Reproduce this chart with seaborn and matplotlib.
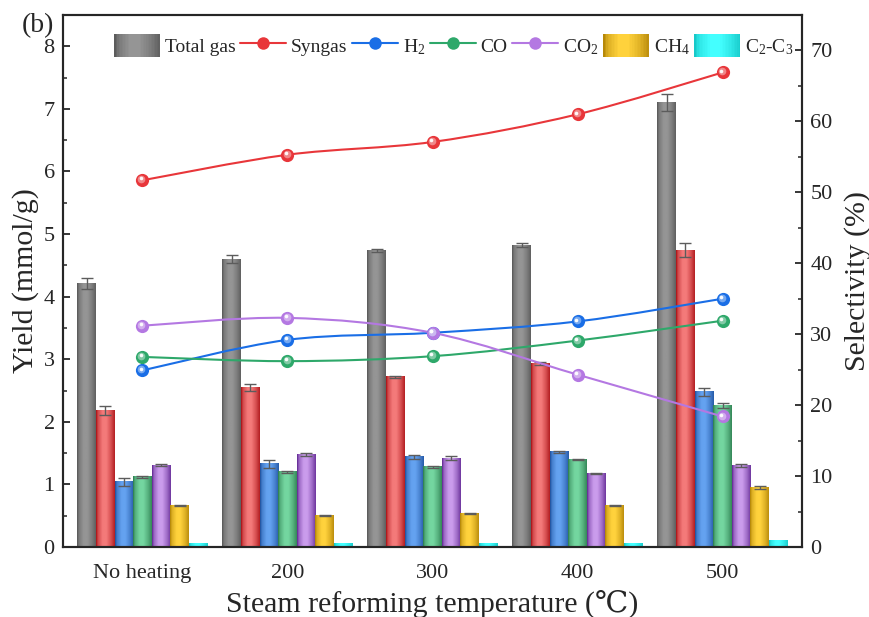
import numpy as np
import pandas as pd
import matplotlib
matplotlib.use("Agg")
import matplotlib.pyplot as plt
import seaborn as sns
from matplotlib.path import Path
from matplotlib.patches import PathPatch, Rectangle
from matplotlib.lines import Line2D
from matplotlib.legend_handler import HandlerBase
from matplotlib.ticker import MultipleLocator
from matplotlib import transforms

# ---- data -------------------------------------------------------------
temperatures = ["No heating", "200", "300", "400", "500"]
gases = ["Total gas", "Syngas", "H$_2$", "CO", "CO$_2$", "CH$_4$", "C$_2$-C$_3$"]

# gas yields (mmol/g)
total_gas = [4.21, 4.60, 4.74, 4.82, 7.10]
syngas = [2.18, 2.55, 2.72, 2.93, 4.74]
h2 = [1.04, 1.33, 1.44, 1.52, 2.48]
co = [1.12, 1.20, 1.28, 1.40, 2.26]
co2 = [1.31, 1.48, 1.42, 1.17, 1.30]
ch4 = [0.66, 0.50, 0.53, 0.66, 0.95]
c2_c3 = [0.05, 0.06, 0.05, 0.05, 0.10]

# standard deviations of the yields
total_gas_err = [0.09, 0.06, 0.02, 0.03, 0.13]
syngas_err = [0.07, 0.06, 0.02, 0.03, 0.11]
h2_err = [0.06, 0.06, 0.03, 0.02, 0.06]
co_err = [0.01, 0.01, 0.02, 0.01, 0.04]
co2_err = [0.01, 0.02, 0.03, 0.01, 0.02]
ch4_err = [0.01, 0.01, 0.01, 0.01, 0.02]
c2_c3_err = [0.0, 0.0, 0.0, 0.0, 0.0]

# selectivities (%)
syngas_sel = [51.7, 55.3, 57.1, 61.0, 66.9]
h2_sel = [24.9, 29.2, 30.2, 31.8, 35.0]
co_sel = [26.8, 26.2, 26.9, 29.1, 31.9]
co2_sel = [31.2, 32.3, 30.2, 24.3, 18.4]

yield_series = [total_gas, syngas, h2, co, co2, ch4, c2_c3]
err_series = [total_gas_err, syngas_err, h2_err, co_err, co2_err, ch4_err, c2_c3_err]

# ---- styling ----------------------------------------------------------
dark_cols = ["#565656", "#a80e12", "#1c4f9c", "#2a7a4c", "#5e2490", "#b08204", "#12c4c4"]
light_cols = ["#959595", "#f47a7a", "#64a2f0", "#74d6a0", "#ca9cec", "#ffd23c", "#44ffff"]
line_cols = {"Syngas": "#e8363a", "H$_2$": "#1a6ee6", "CO": "#2ea86a", "CO$_2$": "#b478e2"}

sns.set_style("ticks")
plt.rcParams["font.family"] = ["Liberation Serif", "DejaVu Serif"]
plt.rcParams["mathtext.fontset"] = "custom"
plt.rcParams["mathtext.rm"] = "Liberation Serif"
plt.rcParams["mathtext.it"] = "Liberation Serif:italic"
plt.rcParams["axes.linewidth"] = 1.5

prof_x = [0.0, 0.1, 0.35, 0.55, 0.8, 1.0]
prof_y = [0.0, 0.55, 1.0, 1.0, 0.6, 0.15]


def shade(dark, light, t):
    d = np.array(matplotlib.colors.to_rgb(dark))
    l = np.array(matplotlib.colors.to_rgb(light))
    p = np.interp(t, prof_x, prof_y)
    return d + (l - d) * np.asarray(p)[..., None]


class GradientHandler(HandlerBase):
    def __init__(self, dark, light):
        super().__init__()
        self.dark, self.light = dark, light

    def create_artists(self, legend, orig_handle, xdescent, ydescent,
                       width, height, fontsize, trans):
        n = 30
        out = []
        for k in range(n):
            c = shade(self.dark, self.light, (k + 0.5) / n)
            out.append(Rectangle((-xdescent + width * k / n, -ydescent),
                                 width / n * 1.08, height, facecolor=c,
                                 edgecolor="none", transform=trans))
        return out


def smooth_path(xs, ys):
    pts = np.column_stack([xs, ys]).astype(float)
    ext = np.vstack([pts[0], pts, pts[-1]])
    verts = [pts[0]]
    codes = [Path.MOVETO]
    for i in range(len(pts) - 1):
        p0, p1, p2, p3 = ext[i], ext[i + 1], ext[i + 2], ext[i + 3]
        verts += [p1 + (p2 - p0) / 6.0, p2 - (p3 - p1) / 6.0, p2]
        codes += [Path.CURVE4] * 3
    return Path(verts, codes)


# ---- figure -----------------------------------------------------------
fig = plt.figure(figsize=(8.69, 6.17), dpi=100)
ax = fig.add_axes([63 / 869, 70 / 617, 739 / 869, 532 / 617])

df = pd.DataFrame({
    "Temperature": np.tile(temperatures, len(gases)),
    "Gas": np.repeat(gases, len(temperatures)),
    "Yield": np.concatenate(yield_series),
})

sns.barplot(data=df, x="Temperature", y="Yield", hue="Gas", order=temperatures,
            hue_order=gases, palette=light_cols, width=0.9, gap=0,
            errorbar=None, linewidth=0, edgecolor="none", saturation=1,
            legend=False, ax=ax)

bar_containers = list(ax.containers)
xs_grad = np.linspace(0, 1, 64)
for gi, cont in enumerate(bar_containers):
    grad = shade(dark_cols[gi], light_cols[gi], xs_grad)[None, :, :]
    for bi, bar in enumerate(cont):
        x0, w, h = bar.get_x(), bar.get_width(), bar.get_height()
        ax.imshow(grad, extent=(x0, x0 + w, 0, h), aspect="auto",
                  interpolation="bilinear", zorder=2)
        e = err_series[gi][bi]
        if e > 0:
            ax.errorbar(x0 + w / 2, h, yerr=e, fmt="none", ecolor="#5c5c5c",
                        elinewidth=1.0, capsize=4.5, capthick=1.0, zorder=3)

ax.set_xlim(-0.548, 4.548)
ax.set_ylim(0, 8.5)
ax.yaxis.set_major_locator(MultipleLocator(1))
ax.yaxis.set_minor_locator(MultipleLocator(0.5))
ax.tick_params(axis="y", which="major", direction="in", length=5, width=1.3,
               labelsize=16, pad=6)
ax.tick_params(axis="y", which="minor", direction="in", length=3, width=1.1)
ax.tick_params(axis="x", length=0, pad=12, labelsize=16)
ax.set_xlabel("Steam reforming temperature (\u2103)", fontsize=21.5, labelpad=5)
ax.set_ylabel("Yield (mmol/g)", fontsize=21.5, labelpad=3)

ax2 = ax.twinx()
ax2.set_ylim(0, 75)
ax2.yaxis.set_major_locator(MultipleLocator(10))
ax2.yaxis.set_minor_locator(MultipleLocator(5))
ax2.tick_params(axis="y", which="major", direction="in", length=5, width=1.3,
                labelsize=16, pad=6)
ax2.tick_params(axis="y", which="minor", direction="in", length=3, width=1.1)
ax2.set_ylabel("Selectivity (%)", fontsize=21.5, labelpad=8)
for sp in ax2.spines.values():
    sp.set_linewidth(1.5)

xpos = np.arange(len(temperatures))
sel_series = {"Syngas": syngas_sel, "H$_2$": h2_sel, "CO": co_sel, "CO$_2$": co2_sel}
hl1 = transforms.offset_copy(ax2.transData, fig=fig, x=-0.7, y=0.7, units="points")
hl2 = transforms.offset_copy(ax2.transData, fig=fig, x=-1.3, y=1.3, units="points")
for name, vals in sel_series.items():
    c = line_cols[name]
    ax2.add_patch(PathPatch(smooth_path(xpos, vals), facecolor="none",
                            edgecolor=c, lw=1.5, zorder=4))
    base = np.array(matplotlib.colors.to_rgb(c))
    ax2.plot(xpos, vals, "o", color=c, markersize=9.5, markeredgewidth=0, zorder=5)
    ax2.plot(xpos, vals, "o", color=base * 0.5 + 0.5, markersize=5.5,
             markeredgewidth=0, alpha=0.8, transform=hl1, zorder=6)
    ax2.plot(xpos, vals, "o", color="white", markersize=2.6,
             markeredgewidth=0, alpha=0.95, transform=hl2, zorder=7)

# legend: bars for Total gas / CH4 / C2-C3, lines for the selectivity curves
handles, handler_map = [], {}
for gi, g in enumerate(gases):
    if g in line_cols:
        h = Line2D([], [], color=line_cols[g], lw=1.5, marker="o", markersize=9,
                   markeredgewidth=0)
    else:
        h = Rectangle((0, 0), 1, 1)
        handler_map[h] = GradientHandler(dark_cols[gi], light_cols[gi])
    handles.append(h)
ax2.legend(handles, gases, handler_map=handler_map, ncol=7, loc="upper left",
           bbox_to_anchor=(0.069, 0.964), frameon=False, fontsize=14,
           handlelength=2.35, handleheight=1.4, handletextpad=0.25,
           columnspacing=0.25, borderpad=0, borderaxespad=0)

fig.text(22 / 869, 1 - 26 / 617, "(b)", fontsize=20, ha="left", va="center")

fig.savefig("out.png", dpi=100)
